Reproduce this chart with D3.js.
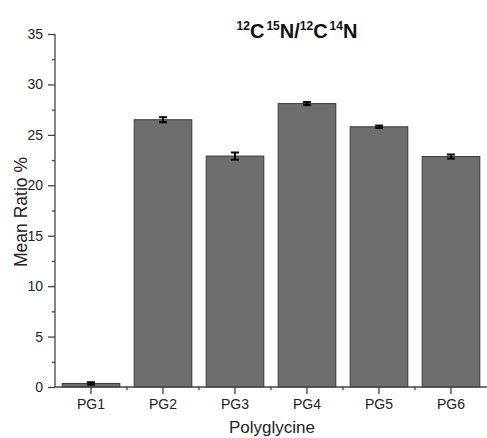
<!DOCTYPE html>
<html><head><meta charset="utf-8">
<script src="https://cdn.jsdelivr.net/npm/d3@7"></script>
<style>body{margin:0;background:#fff}svg{display:block}text{font-family:"Liberation Sans",Arial,sans-serif}</style>
</head><body><svg id="c" width="487" height="438"></svg>
<script>
const categories = ["PG1","PG2","PG3","PG4","PG5","PG6"];
const values = [0.35, 26.5, 22.9, 28.1, 25.8, 22.85];
const errors = [0.12, 0.25, 0.35, 0.15, 0.12, 0.2];
const yTicks = [0,5,10,15,20,25,30,35];
const yMinorTicks = [2.5,7.5,12.5,17.5,22.5,27.5,32.5];

const svg = d3.select("#c");
const L = 55, R = 487, T = 34, B = 387;
const x = d3.scaleBand().domain(categories).range([L, R]).paddingInner(0.2).paddingOuter(0.1);
const y = d3.scaleLinear().domain([0,35]).range([B, T]);

// bars
svg.append("g").selectAll("rect").data(categories).join("rect")
  .attr("x", d => x(d)).attr("width", x.bandwidth())
  .attr("y", (d,i) => y(values[i])).attr("height", (d,i) => B - y(values[i]))
  .attr("fill", "#6e6e6e").attr("stroke", "#3a3a3a").attr("stroke-width", 1);

// error bars
const eg = svg.append("g").attr("stroke", "#000");
categories.forEach((c,i) => {
  const cx = x(c) + x.bandwidth()/2;
  const y1 = y(values[i]+errors[i]), y2 = y(values[i]-errors[i]);
  eg.append("line").attr("x1",cx).attr("x2",cx).attr("y1",y1).attr("y2",y2).attr("stroke-width",2);
  eg.append("line").attr("x1",cx-4).attr("x2",cx+4).attr("y1",y1).attr("y2",y1).attr("stroke-width",2);
  eg.append("line").attr("x1",cx-4).attr("x2",cx+4).attr("y1",y2).attr("y2",y2).attr("stroke-width",2);
});

// y axis
const ya = svg.append("g").attr("transform", `translate(${L},0)`)
  .call(d3.axisLeft(y).tickValues(yTicks).tickSize(7).tickPadding(5).tickFormat(d3.format("d")));
ya.selectAll("text").attr("font-size", 14).attr("fill", "#222");
ya.selectAll("line,path").attr("stroke", "#444").attr("stroke-width", 1.3);
ya.select(".domain").attr("d", `M0,${B}V${T}`);
svg.append("g").attr("transform", `translate(${L},0)`)
  .call(d3.axisLeft(y).tickValues(yMinorTicks).tickSize(3).tickFormat(""))
  .call(g => g.select(".domain").remove())
  .selectAll("line").attr("stroke","#444").attr("stroke-width", 1.3);

// x axis
const xa = svg.append("g").attr("transform", `translate(0,${B})`)
  .call(d3.axisBottom(x).tickSize(7).tickPadding(5));
xa.selectAll("text").attr("font-size", 14).attr("fill", "#222");
xa.selectAll("line,path").attr("stroke", "#444").attr("stroke-width", 1.3);
xa.select(".domain").attr("d", `M${L},0H${R}`);
const step = x.step();
const bounds = categories.slice(1).map(c => x(c) - step*0.1);
svg.append("g").selectAll("line").data(bounds).join("line")
  .attr("x1", d=>d).attr("x2", d=>d).attr("y1", B).attr("y2", B+3).attr("stroke","#444").attr("stroke-width", 1.3);

// labels
svg.append("text").attr("transform", `translate(27,212) rotate(-90)`)
  .attr("text-anchor","middle").attr("font-size",17.5).attr("fill","#222").text("Mean Ratio %");
svg.append("text").attr("x", 272).attr("y", 433).attr("text-anchor","middle")
  .attr("font-size",17).attr("fill","#222").text("Polyglycine");

// title
const t = svg.append("text").attr("x", 297).attr("y", 38).attr("text-anchor","middle")
  .attr("font-size",20).attr("font-weight","bold").attr("fill","#111");
const parts = [["12",1],["C",0],["15",1],["N/",0],["12",1],["C",0],["14",1],["N",0]];
parts.forEach(([s,sup], i) => {
  const ts = t.append("tspan").text(s);
  if (sup) ts.attr("font-size", 12).attr("dy", -8).attr("dx", (i===0||i===4) ? 0 : 2);
  else ts.attr("dy", 8);
});
</script></body></html>
